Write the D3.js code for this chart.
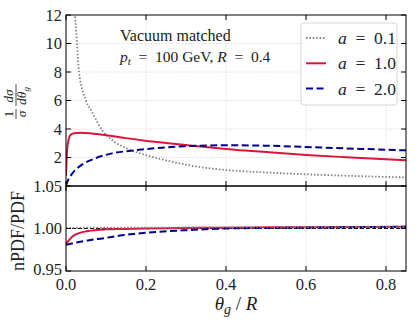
<!DOCTYPE html>
<html>
<head>
<meta charset="utf-8">
<script src="https://cdn.jsdelivr.net/npm/d3@7/dist/d3.min.js"></script>
<style>
  body { margin: 0; background: #fff; }
  svg text { font-family: "Liberation Serif", "DejaVu Serif", serif; fill: #222; }
</style>
</head>
<body>
<svg id="chart"></svg>
<script>
const width = 415;
const height = 328;

// 讀圖估計的數值
const xTicks = [0.0, 0.2, 0.4, 0.6, 0.8];
const yTopTicks = [2, 4, 6, 8, 10, 12];
const yBotTicks = [0.95, 1.00, 1.05];

// a = 0.1 (gray dotted)
const thetaA01 = [0.016, 0.0225, 0.0275, 0.0325, 0.05, 0.065, 0.09, 0.115, 0.157, 0.198, 0.24, 0.31, 0.4, 0.5, 0.6, 0.7, 0.85];
const distA01 = [15, 12, 10, 8, 6, 5.2, 3.93, 3.23, 2.58, 2.18, 1.87, 1.44, 1.12, 0.95, 0.82, 0.72, 0.6];
// a = 1.0 (red)
const thetaA10 = [0, 0.003, 0.007, 0.011, 0.02, 0.036, 0.06, 0.09, 0.115, 0.15, 0.198, 0.25, 0.31, 0.4, 0.5, 0.6, 0.7, 0.85];
const distA10 = [0.7, 2.6, 3.3, 3.58, 3.7, 3.74, 3.7, 3.6, 3.51, 3.36, 3.18, 3.02, 2.85, 2.6, 2.38, 2.18, 2.02, 1.8];
// a = 2.0 (blue dashed)
const thetaA20 = [0, 0.004, 0.015, 0.04, 0.073, 0.115, 0.157, 0.198, 0.24, 0.31, 0.4, 0.5, 0.6, 0.7, 0.85];
const distA20 = [0.05, 0.35, 0.85, 1.5, 1.94, 2.29, 2.46, 2.58, 2.69, 2.8, 2.86, 2.83, 2.74, 2.64, 2.5];

// nPDF/PDF ratio
const thetaRatio = [0, 0.02, 0.055, 0.1, 0.14, 0.2, 0.3, 0.4, 0.6, 0.85];
const ratioA01 = [1.0005, 1.0008, 1.001, 1.001, 1.001, 1.001, 1.0012, 1.0013, 1.0014, 1.0015];
const ratioA10 = [0.982, 0.992, 0.997, 0.999, 0.9995, 1.0, 1.0005, 1.001, 1.0015, 1.002];
const ratioA20 = [0.981, 0.983, 0.986, 0.989, 0.992, 0.995, 0.998, 1.0, 1.001, 1.002];

const svg = d3.select('#chart')
    .attr('width', width)
    .attr('height', height);

// 版面
const left = 66, right = 406;
const topY0 = 15, topY1 = 186, botY1 = 271;

const x = d3.scaleLinear().domain([0, 0.85]).range([left, right]);
const yTop = d3.scaleLinear().domain([0, 12]).range([topY1, topY0]);
const yBot = d3.scaleLinear().domain([0.95, 1.05]).range([botY1, topY1]);

// clip paths
const defs = svg.append('defs');
defs.append('clipPath').attr('id', 'clipTop')
    .append('rect').attr('x', left).attr('y', topY0).attr('width', right - left).attr('height', topY1 - topY0);
defs.append('clipPath').attr('id', 'clipBot')
    .append('rect').attr('x', left).attr('y', topY1).attr('width', right - left).attr('height', botY1 - topY1);

const gridColor = '#cccccc';
const dotDash = '1.5,1.9';

// 格線
function drawGrid(yScale, yVals, y0, y1) {
    const g = svg.append('g');
    g.selectAll('.vgrid').data(xTicks).enter().append('line')
        .attr('x1', d => x(d)).attr('x2', d => x(d))
        .attr('y1', y0).attr('y2', y1)
        .attr('stroke', gridColor).attr('stroke-width', 0.8).attr('stroke-dasharray', '1,1.5');
    g.selectAll('.hgrid').data(yVals).enter().append('line')
        .attr('x1', left).attr('x2', right)
        .attr('y1', d => yScale(d)).attr('y2', d => yScale(d))
        .attr('stroke', gridColor).attr('stroke-width', 0.8).attr('stroke-dasharray', '1,1.5');
}
drawGrid(yTop, [2, 4, 6, 8, 10], topY0, topY1);
drawGrid(yBot, [], topY1, botY1);

const line = (xs, ys, yScale) => d3.line()
    .x((d, i) => x(xs[i]))
    .y(d => yScale(d))
    .curve(d3.curveMonotoneX)(ys);

// 上圖曲線
const gTop = svg.append('g').attr('clip-path', 'url(#clipTop)');
gTop.append('path').attr('d', line(thetaA01, distA01, yTop))
    .attr('fill', 'none').attr('stroke', '#808080').attr('stroke-width', 1.8).attr('stroke-dasharray', dotDash);
gTop.append('path').attr('d', line(thetaA10, distA10, yTop))
    .attr('fill', 'none').attr('stroke', 'crimson').attr('stroke-width', 2);
gTop.append('path').attr('d', line(thetaA20, distA20, yTop))
    .attr('fill', 'none').attr('stroke', 'darkblue').attr('stroke-width', 2).attr('stroke-dasharray', '7,3.5');

// 下圖曲線
const gBot = svg.append('g').attr('clip-path', 'url(#clipBot)');
gBot.append('line')
    .attr('x1', left).attr('x2', right).attr('y1', yBot(1)).attr('y2', yBot(1))
    .attr('stroke', '#000').attr('stroke-width', 1).attr('stroke-dasharray', '4,2');
gBot.append('path').attr('d', line(thetaRatio, ratioA10, yBot))
    .attr('fill', 'none').attr('stroke', 'crimson').attr('stroke-width', 2);
gBot.append('path').attr('d', line(thetaRatio, ratioA20, yBot))
    .attr('fill', 'none').attr('stroke', 'darkblue').attr('stroke-width', 2).attr('stroke-dasharray', '7,3.5');
gBot.append('path').attr('d', line(thetaRatio, ratioA01, yBot))
    .attr('fill', 'none').attr('stroke', '#808080').attr('stroke-width', 1.8).attr('stroke-dasharray', dotDash);

// 座標軸 (刻度朝內、四邊都有)
const tick = 5;
function frame(yScale, yVals, y0, y1) {
    const g = svg.append('g');
    g.append('rect').attr('x', left).attr('y', y0).attr('width', right - left).attr('height', y1 - y0)
        .attr('fill', 'none').attr('stroke', '#000').attr('stroke-width', 1);
    xTicks.forEach(v => {
        g.append('line').attr('x1', x(v)).attr('x2', x(v)).attr('y1', y1).attr('y2', y1 - tick).attr('stroke', '#000');
        g.append('line').attr('x1', x(v)).attr('x2', x(v)).attr('y1', y0).attr('y2', y0 + tick).attr('stroke', '#000');
    });
    yVals.forEach(v => {
        g.append('line').attr('x1', left).attr('x2', left + tick).attr('y1', yScale(v)).attr('y2', yScale(v)).attr('stroke', '#000');
        g.append('line').attr('x1', right).attr('x2', right - tick).attr('y1', yScale(v)).attr('y2', yScale(v)).attr('stroke', '#000');
    });
}
frame(yTop, yTopTicks, topY0, topY1);
frame(yBot, yBotTicks, topY1, botY1);

// 刻度文字
const tickFont = 16.5;
svg.append('g').selectAll('text').data(yTopTicks).enter().append('text')
    .attr('x', left - 4).attr('y', d => yTop(d)).attr('dy', '0.35em')
    .attr('text-anchor', 'end').attr('font-size', tickFont)
    .text(d3.format('d'));
// 0.95 稍微往上，避免跟 0.0 重疊
svg.append('g').selectAll('text').data(yBotTicks).enter().append('text')
    .attr('x', left - 4).attr('y', d => yBot(d)).attr('dy', d => d === 0.95 ? '0.22em' : '0.35em')
    .attr('text-anchor', 'end').attr('font-size', tickFont)
    .text(d3.format('.2f'));
svg.append('g').selectAll('text').data(xTicks).enter().append('text')
    .attr('x', d => x(d)).attr('y', 290)
    .attr('text-anchor', 'middle').attr('font-size', tickFont)
    .text(d3.format('.1f'));

// x 軸標題 θg / R
const xl = svg.append('text').attr('x', 236).attr('y', 310).attr('text-anchor', 'middle').attr('font-size', 19);
xl.append('tspan').attr('font-style', 'italic').text('θ');
xl.append('tspan').attr('font-style', 'italic').attr('font-size', 14).attr('dy', 4).text('g');
xl.append('tspan').attr('dy', -4).text(' / ');
xl.append('tspan').attr('font-style', 'italic').text('R');

// y 軸標題 (上)：1/σ dσ/dθg
const yl = svg.append('g').attr('transform', 'translate(16,101) rotate(-90)');
const fs = 13.5;
yl.append('text').attr('x', -13).attr('y', -3).attr('text-anchor', 'middle').attr('font-size', fs).text('1');
yl.append('line').attr('x1', -18).attr('x2', -8).attr('y1', 0).attr('y2', 0).attr('stroke', '#222').attr('stroke-width', 0.8);
yl.append('text').attr('x', -13).attr('y', 10).attr('text-anchor', 'middle').attr('font-size', fs).attr('font-style', 'italic').text('σ');
yl.append('text').attr('x', 5).attr('y', -3).attr('text-anchor', 'middle').attr('font-size', fs).attr('font-style', 'italic').text('dσ');
yl.append('line').attr('x1', -5).attr('x2', 17).attr('y1', 0).attr('y2', 0).attr('stroke', '#222').attr('stroke-width', 0.8);
const den = yl.append('text').attr('x', 5).attr('y', 10).attr('text-anchor', 'middle').attr('font-size', fs).attr('font-style', 'italic');
den.append('tspan').text('dθ');
den.append('tspan').attr('font-size', 9).attr('dy', 3).text('g');

// y 軸標題 (下)
svg.append('text').attr('transform', 'translate(24,231) rotate(-90)')
    .attr('text-anchor', 'middle').attr('font-size', 18).text('nPDF/PDF');

// 註解文字
const eq = '\u2002=\u2002';
svg.append('text').attr('x', 120).attr('y', 41).attr('font-size', 16).text('Vacuum matched');
const ann = svg.append('text').attr('x', 120).attr('y', 62).attr('font-size', 15.5);
ann.append('tspan').attr('font-style', 'italic').text('p');
ann.append('tspan').attr('font-style', 'italic').attr('font-size', 11).attr('dy', 3).text('t');
ann.append('tspan').attr('dy', -3).text(eq + '100 GeV, ');
ann.append('tspan').attr('font-style', 'italic').text('R');
ann.append('tspan').text(eq + '0.4');

// 圖例
const legendItems = [
    { label: '0.1', color: '#808080', width: 1.8, dash: dotDash },
    { label: '1.0', color: 'crimson', width: 2, dash: null },
    { label: '2.0', color: 'darkblue', width: 2, dash: '7,3.5' }
];
const lg = svg.append('g');
lg.append('rect').attr('x', 301).attr('y', 23).attr('width', 96).attr('height', 82).attr('rx', 3)
    .attr('fill', 'white').attr('fill-opacity', 0.85).attr('stroke', '#d6d6d6').attr('stroke-width', 1);
legendItems.forEach((d, i) => {
    const yy = 38 + i * 25.3;
    lg.append('line').attr('x1', 306).attr('x2', 326).attr('y1', yy).attr('y2', yy)
        .attr('stroke', d.color).attr('stroke-width', d.width).attr('stroke-dasharray', d.dash);
    const t = lg.append('text').attr('x', 338).attr('y', yy + 6).attr('font-size', 17.5);
    t.append('tspan').attr('font-style', 'italic').text('a');
    t.append('tspan').text(eq + d.label);
});
</script>
</body>
</html>
